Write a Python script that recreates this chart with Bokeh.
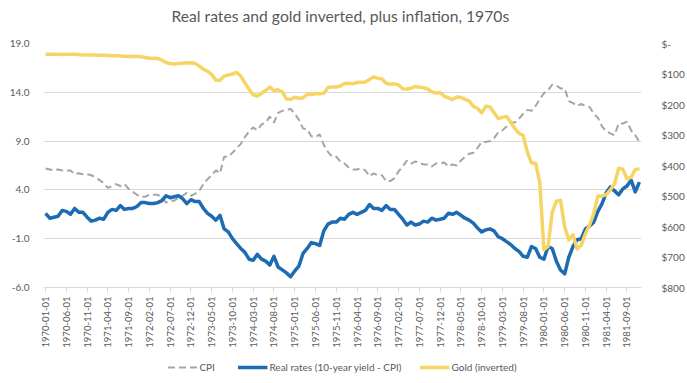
from bokeh.plotting import figure
from bokeh.layouts import column
from bokeh.core.properties import value
from bokeh.models import (Range1d, LinearAxis, FixedTicker, NumeralTickFormatter,
                          Legend, LegendItem, ColumnDataSource)
from bokeh.embed import file_html
from bokeh.resources import INLINE

# ---------------- data ----------------
title_text = "Real rates and gold inverted, plus inflation, 1970s"
dates = [f"{y}-{m:02d}-01" for y in range(1970, 1982) for m in range(1, 13)]

cpi = [
    6.2, 6.1, 6.0, 6.1, 6.0, 6.0, 6.0, 5.6, 5.7, 5.6, 5.6, 5.5,   # 1970
    5.3, 5.0, 4.7, 4.2, 4.4, 4.6, 4.4, 4.6, 4.1, 3.8, 3.5, 3.3,   # 1971
    3.3, 3.5, 3.5, 3.5, 3.2, 2.7, 2.9, 2.9, 3.2, 3.4, 3.7, 3.4,   # 1972
    3.6, 3.9, 4.6, 5.1, 5.5, 6.0, 5.7, 7.4, 7.4, 7.8, 8.3, 8.7,   # 1973
    9.4, 10.0, 10.4, 10.1, 10.7, 10.9, 11.5, 10.9, 11.9, 12.1, 12.2, 12.3,  # 1974
    11.8, 11.2, 10.3, 10.2, 9.5, 9.4, 9.7, 8.6, 7.9, 7.4, 7.4, 6.9,  # 1975
    6.7, 6.3, 6.1, 6.1, 6.2, 6.0, 5.4, 5.7, 5.5, 5.5, 4.9, 4.9,   # 1976
    5.2, 5.9, 6.4, 7.0, 6.7, 6.9, 6.8, 6.6, 6.6, 6.4, 6.7, 6.7,   # 1977
    6.8, 6.4, 6.6, 6.5, 7.0, 7.4, 7.7, 7.8, 8.3, 8.9, 8.9, 9.0,   # 1978
    9.3, 9.9, 10.1, 10.5, 10.9, 10.9, 11.3, 11.8, 12.2, 12.1, 12.6, 13.3,  # 1979
    13.9, 14.2, 14.8, 14.7, 14.4, 14.4, 13.1, 12.9, 12.6, 12.8, 12.6, 12.5,  # 1980
    11.8, 11.4, 10.5, 10.0, 9.8, 9.6, 10.8, 10.8, 11.0, 10.1, 9.6, 8.9,  # 1981
]

real_rates = [
    1.6, 1.1, 1.2, 1.3, 1.9, 1.8, 1.5, 2.1, 1.7, 1.7, 1.2, 0.8,   # 1970
    0.9, 1.1, 1.0, 1.7, 2.0, 1.9, 2.4, 2.0, 2.1, 2.1, 2.3, 2.7,   # 1971
    2.7, 2.6, 2.6, 2.7, 2.9, 3.4, 3.2, 3.3, 3.4, 3.1, 2.6, 3.0,   # 1972
    2.8, 2.8, 2.1, 1.6, 1.3, 0.9, 1.4, 0.0, -0.3, -1.0, -1.5, -2.0,  # 1973
    -2.4, -3.1, -3.2, -2.6, -3.1, -3.3, -3.7, -2.8, -3.9, -4.2, -4.5, -4.9,  # 1974
    -4.3, -3.8, -2.5, -2.0, -1.4, -1.5, -1.7, -0.2, 0.5, 0.7, 0.7, 1.1,  # 1975
    1.0, 1.5, 1.7, 1.5, 1.7, 1.9, 2.5, 2.1, 2.1, 1.9, 2.4, 2.0,   # 1976
    2.0, 1.5, 1.0, 0.4, 0.7, 0.4, 0.5, 0.8, 0.7, 1.1, 0.9, 1.0,   # 1977
    1.1, 1.6, 1.5, 1.7, 1.4, 1.1, 0.9, 0.6, 0.1, -0.3, -0.1, 0.0,  # 1978
    -0.2, -0.8, -1.0, -1.3, -1.6, -2.0, -2.3, -2.8, -2.9, -1.8, -2.0, -2.9,  # 1979
    -3.1, -1.8, -2.0, -3.3, -4.2, -4.6, -2.9, -1.8, -1.1, -1.0, 0.0, 0.3,  # 1980
    0.7, 1.8, 2.6, 3.7, 4.3, 3.9, 3.5, 4.1, 4.4, 5.0, 3.8, 4.8,   # 1981
]

gold = [
    34.9, 35.0, 35.1, 35.6, 35.9, 35.4, 35.3, 35.4, 36.2, 37.5, 37.4, 37.4,   # 1970
    37.9, 38.7, 38.9, 39.0, 40.5, 40.1, 41.0, 42.7, 42.0, 42.5, 42.9, 43.5,   # 1971
    45.7, 48.3, 48.3, 49.0, 54.6, 62.1, 65.7, 67.0, 65.5, 64.9, 62.9, 63.9,   # 1972
    65.1, 74.2, 84.4, 90.5, 102.0, 120.1, 120.2, 106.8, 103.0, 100.1, 94.8, 106.7,  # 1973
    129.2, 150.2, 168.4, 172.2, 163.3, 154.1, 143.0, 154.6, 151.8, 158.8, 181.7, 183.9,  # 1974
    176.3, 179.6, 178.2, 167.0, 167.0, 164.2, 165.1, 163.0, 144.1, 142.8, 142.8, 139.3,  # 1975
    131.3, 130.7, 132.4, 127.9, 126.9, 125.9, 117.8, 109.3, 114.3, 116.4, 130.4, 133.4,  # 1976
    132.3, 136.1, 148.2, 149.4, 146.7, 140.8, 143.3, 144.8, 149.3, 158.7, 162.2, 160.5,  # 1977
    173.2, 178.2, 183.7, 175.3, 176.3, 183.2, 188.2, 206.1, 212.4, 227.4, 206.0, 207.8,  # 1978
    227.2, 245.7, 242.1, 239.2, 257.6, 279.1, 294.7, 300.8, 355.1, 391.7, 392.5, 455.1,  # 1979
    675.3, 665.3, 553.6, 517.4, 513.8, 600.7, 644.3, 627.0, 673.6, 661.1, 623.5, 594.9,  # 1980
    557.4, 500.0, 499.8, 495.8, 479.7, 460.8, 409.2, 411.9, 443.6, 437.8, 413.4, 410.1,  # 1981
]

left_ticks = [-6, -1, 4, 9, 14, 19]
right_ticks = [0, 100, 200, 300, 400, 500, 600, 700, 800]
right_labels = ["$-", "$100", "$200", "$300", "$400", "$500", "$600", "$700", "$800"]
x_tick_step = 5
series_names = ["CPI", "Real rates (10-year yield - CPI)", "Gold (inverted)"]

# ---------------- styling ----------------
FONT = "Lato"
TXT = "#595959"
GRID = "#D9D9D9"
W = 687
STYLES = [dict(line_color="#A5A5A5", line_width=2, line_dash="7 4"),
          dict(line_color="#1C6BB3", line_width=3.5, line_join="round"),
          dict(line_color="#F7D565", line_width=3.5, line_join="round")]


def strip(height):
    f = figure(width=W, height=height, output_backend="svg", toolbar_location=None,
               x_range=Range1d(0, W), y_range=Range1d(0, height),
               x_axis_location=None, y_axis_location=None,
               min_border_left=0, min_border_right=0, min_border_top=0,
               min_border_bottom=0)
    f.outline_line_color = None
    f.xgrid.visible = False
    f.ygrid.visible = False
    f.background_fill_color = "white"
    f.border_fill_color = "white"
    return f


# ---------------- title strip ----------------
tt = strip(30)
tt.text(x=[341], y=[15], text=[title_text], text_align="center",
        text_baseline="middle", text_font=value(FONT), text_font_size="15.7px",
        text_color=TXT)

# ---------------- main chart ----------------
src = ColumnDataSource(data=dict(x=list(range(len(dates))), cpi=cpi,
                                 real=real_rates, gold=gold))

p = figure(width=W, height=320, output_backend="svg", toolbar_location=None,
           x_range=Range1d(-0.5, len(dates) - 0.5), y_range=Range1d(-6, 19),
           min_border_left=43, min_border_right=42, min_border_top=13,
           min_border_bottom=62)
p.extra_y_ranges = {"gold": Range1d(start=800, end=0)}

p.outline_line_color = None
p.background_fill_color = "white"
p.border_fill_color = "white"

# grid
p.xgrid.visible = False
p.ygrid.ticker = FixedTicker(ticks=left_ticks)
p.ygrid.grid_line_color = GRID
p.ygrid.grid_line_width = 1

# left axis
la = p.yaxis[0]
la.ticker = FixedTicker(ticks=left_ticks)
la.formatter = NumeralTickFormatter(format="0.0")
la.axis_line_color = None
la.major_tick_line_color = None
la.minor_tick_line_color = None
la.major_label_text_font = FONT
la.major_label_text_font_size = "10px"
la.major_label_text_color = TXT
la.major_label_standoff = 8

# bottom axis
xa = p.xaxis[0]
xticks = list(range(0, len(dates), x_tick_step))
xa.ticker = FixedTicker(ticks=xticks)
xa.major_label_overrides = {i: dates[i] for i in xticks}
xa.major_label_orientation = 1.5707963
xa.axis_line_color = GRID
xa.major_tick_line_color = GRID
xa.major_tick_out = 5
xa.major_tick_in = 0
xa.minor_tick_line_color = None
xa.major_label_text_font = FONT
xa.major_label_text_font_size = "9.5px"
xa.major_label_text_color = TXT
xa.major_label_standoff = 4

# right axis
ra = LinearAxis(y_range_name="gold", ticker=FixedTicker(ticks=right_ticks),
                major_label_overrides={t: l for t, l in zip(right_ticks, right_labels)})
ra.axis_line_color = None
ra.major_tick_line_color = None
ra.minor_tick_line_color = None
ra.major_label_text_font = FONT
ra.major_label_text_font_size = "10px"
ra.major_label_text_color = TXT
ra.major_label_standoff = 14
p.add_layout(ra, "right")

# series
p.line("x", "cpi", source=src, **STYLES[0])
p.line("x", "real", source=src, **STYLES[1])
p.line("x", "gold", source=src, y_range_name="gold", **STYLES[2])

# ---------------- legend strip ----------------
lg = strip(33)
# legend-key renderers: placed outside the visible strip, only their keys show
items = []
for name, st in zip(series_names, STYLES):
    r = lg.line(x=[-50, -40], y=[-50, -40], **st)
    items.append(LegendItem(label=name, renderers=[r]))

legend = Legend(items=items, location="center", orientation="horizontal",
                padding=0, margin=0, spacing=18, glyph_width=30, glyph_height=14,
                label_height=14, label_standoff=2, border_line_color=None,
                background_fill_alpha=0, label_text_font=FONT,
                label_text_font_size="10px", label_text_color=TXT)
lg.add_layout(legend)

layout = column(tt, p, lg, spacing=0)

open("out.html", "w").write(file_html(layout, INLINE))
